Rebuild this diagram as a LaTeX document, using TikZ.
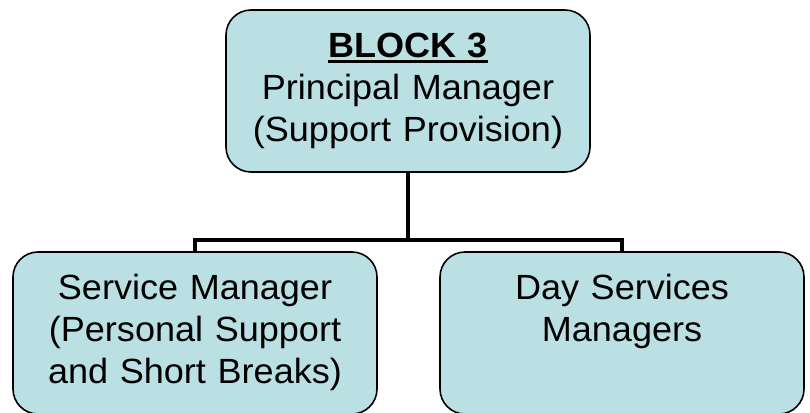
\documentclass[tikz,border=0pt]{standalone}
\usepackage{fontspec}
\setmainfont[FakeStretch=1.03]{Liberation Sans}
\usetikzlibrary{positioning}
\definecolor{boxfill}{RGB}{187,224,227}
\newcommand{\blockul}[1]{\setbox0\hbox{#1}\rlap{\rule[-5pt]{\wd0}{2.6pt}}\box0}

\begin{document}
\begin{tikzpicture}[x=1pt, y=1pt,
    orgbox/.style={draw=black, line width=1.6pt, fill=boxfill, rounded corners=25pt,
        minimum width=364pt, minimum height=162pt, text width=340pt, align=center,
        font=\fontsize{35pt}{42pt}\selectfont, text height=25pt, text depth=91pt},
    link/.style={line width=4pt}]
    \useasboundingbox (0,0) rectangle (810,412);

    % Principal manager
    \node[orgbox] (principal) at (408,321) {\blockul{\textbf{BLOCK 3}}\\Principal Manager\\(Support Provision)};

    % Managers below
    \node[orgbox] (service) at (195,79) {Service Manager\\(Personal Support\\and Short Breaks)};
    \node[orgbox] (dayserv) at (622,79) {Day Services\\Managers};

    % Connectors
    \coordinate (split) at (408,172);
    \draw[link] (principal.south) -- (split);
    \draw[link] (service.north) |- (split) -| (dayserv.north);
\end{tikzpicture}
\end{document}
